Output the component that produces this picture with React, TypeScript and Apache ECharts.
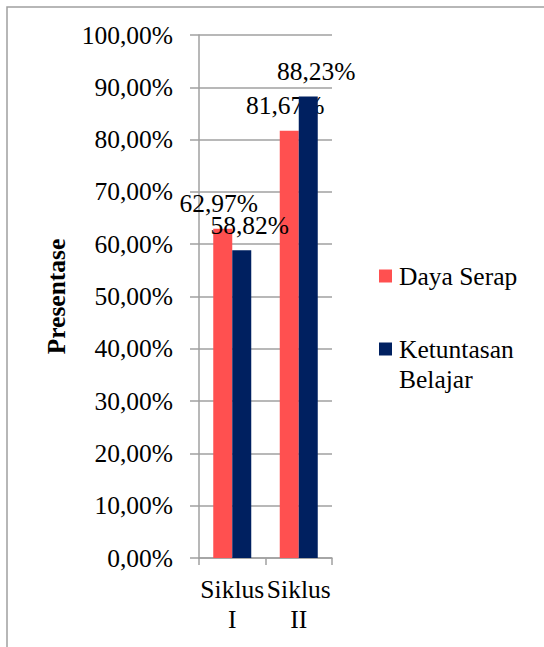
import React, { useEffect, useRef } from "react";
import * as echarts from "echarts";

const categories = ["Siklus\nI", "Siklus\nII"];
const seriesNames = ["Daya Serap", "Ketuntasan Belajar"];
const dayaSerap = [62.97, 81.67];
const ketuntasan = [58.82, 88.23];
const yTicks = { min: 0, max: 100, interval: 10 };

const FONT = "Liberation Serif";
const FS = 25.5;
const fmt = (v: number) => v.toFixed(2).replace(".", ",") + "%";

export default function App() {
  const ref = useRef<HTMLDivElement>(null);
  useEffect(() => {
    document.body.style.margin = "0";
    const chart = echarts.init(ref.current!, null, { renderer: "svg" });
    chart.setOption({
      animation: false,
      backgroundColor: "#fff",
      textStyle: { fontFamily: FONT, color: "#000" },
      graphic: [
        {
          type: "rect",
          shape: { x: 7, y: 7, width: 700, height: 800 },
          style: { fill: "none", stroke: "#a0a0a0", lineWidth: 1.5 },
          silent: true,
          z: -1,
        },
      ],
      grid: { left: 199, right: 212, top: 35, bottom: 89 },
      legend: {
        orient: "vertical",
        left: 374,
        top: 256,
        itemWidth: 13,
        itemHeight: 13,
        itemGap: 13,
        icon: "rect",
        formatter: (n: string) => (n === seriesNames[1] ? "\nKetuntasan\nBelajar" : n),
        textStyle: { fontFamily: FONT, fontSize: FS, lineHeight: 30, color: "#000", padding: [0, 0, 0, 2] },
        data: seriesNames,
      },
      xAxis: {
        type: "category",
        data: categories,
        axisLine: { lineStyle: { color: "#a0a0a0", width: 1.5 } },
        axisTick: { show: true, length: 7, lineStyle: { color: "#a0a0a0", width: 1.5 } },
        axisLabel: { fontFamily: FONT, fontSize: FS, lineHeight: 30, color: "#000", margin: 16, interval: 0 },
      },
      yAxis: {
        type: "value",
        min: yTicks.min,
        max: yTicks.max,
        interval: yTicks.interval,
        name: "Presentase",
        nameLocation: "middle",
        nameRotate: 90,
        nameGap: 130,
        nameTextStyle: { fontFamily: FONT, fontSize: FS, fontWeight: "bold", color: "#000" },
        axisLine: { show: true, lineStyle: { color: "#a0a0a0", width: 1.5 } },
        axisTick: { show: true, length: 9, lineStyle: { color: "#a0a0a0", width: 1.5 } },
        splitLine: { lineStyle: { color: "#a0a0a0", width: 1.5 } },
        axisLabel: { fontFamily: FONT, fontSize: FS, color: "#000", margin: 26, formatter: fmt },
      },
      series: [
        {
          name: seriesNames[0],
          type: "bar",
          data: dayaSerap,
          barWidth: 19,
          barGap: "0%",
          z: 2,
          itemStyle: { color: "#FF5050" },
          label: {
            show: true,
            position: "top",
            distance: 12,
            offset: [-4, 0],
            fontFamily: FONT,
            fontSize: FS,
            color: "#000",
            formatter: (p: any) => fmt(p.value),
          },
        },
        {
          name: seriesNames[1],
          type: "bar",
          data: ketuntasan,
          barWidth: 19,
          barGap: "0%",
          z: 3,
          itemStyle: { color: "#002060" },
          label: {
            show: true,
            position: "top",
            distance: 12,
            offset: [8, 0],
            fontFamily: FONT,
            fontSize: FS,
            color: "#000",
            formatter: (p: any) => fmt(p.value),
          },
        },
      ],
    });
    return () => chart.dispose();
  }, []);
  return (
    <div
      ref={ref}
      style={{ position: "fixed", left: 0, top: 0, width: 544, height: 647 }}
    />
  );
}
